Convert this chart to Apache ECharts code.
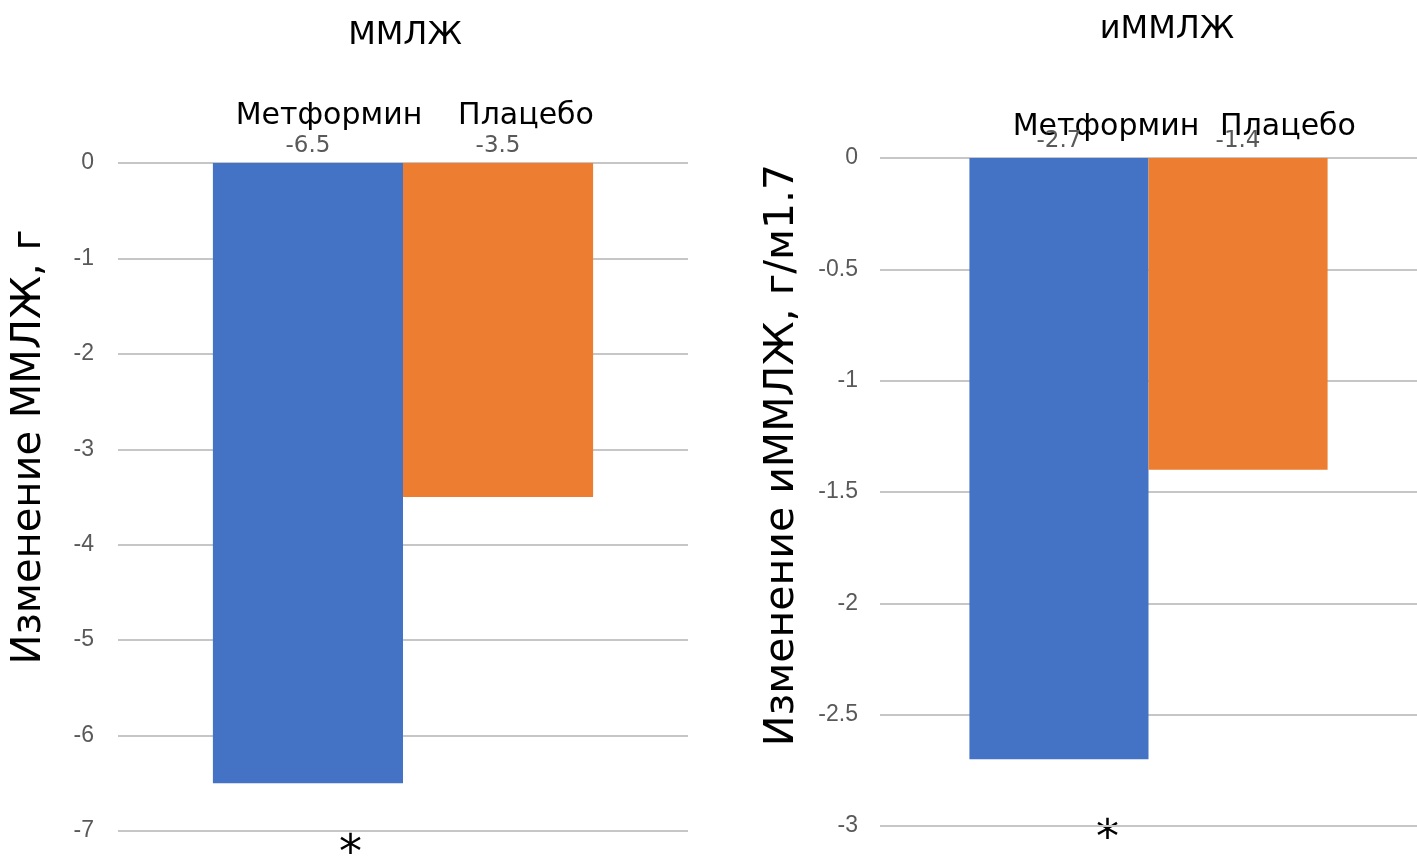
<!DOCTYPE html>
<html>
<head>
<meta charset="utf-8">
<script src="https://cdn.jsdelivr.net/npm/echarts@6/dist/echarts.min.js"></script>
<style>
  html, body { margin: 0; padding: 0; background: #fff; }
  #chart { width: 1417px; height: 864px; }
</style>
</head>
<body>
<div id="chart"></div>
<script>
// Change in LV mass (left) and indexed LV mass (right), metformin vs placebo
const groups = ['Метформин', 'Плацебо'];
const massChange = [-6.5, -3.5];      // г
const indexChange = [-2.7, -1.4];     // г/м1.7
const titles = ['ММЛЖ', 'иММЛЖ'];
const axisNames = ['Изменение ММЛЖ, г', 'Изменение иММЛЖ, г/м1.7'];
const colors = ['#4472C4', '#ED7D31'];

const chart = echarts.init(document.getElementById('chart'));

const catFont = 'DejaVu Sans';
const tickFont = 'Liberation Sans';

// label: group name on top, value just above the zero line
function makeLabel(nameLineHeight, shifts) {
  return shifts.map(function (s) {
    return {
      show: true,
      position: 'top',
      distance: 5,
      formatter: function (p) {
        return '{n|' + p.seriesName + '}\n{v|' + p.value + '}';
      },
      rich: {
        n: { fontFamily: catFont, fontSize: 30, color: '#000', lineHeight: nameLineHeight, padding: [0, 0, 0, s] },
        v: { fontFamily: catFont, fontSize: 23, color: '#595959', lineHeight: 24 }
      }
    };
  });
}

const leftLabels = makeLabel(35, [42, 56]);
const rightLabels = makeLabel(3, [94, 100]);

const series = [];
groups.forEach(function (g, i) {
  series.push({
    name: g, type: 'bar', xAxisIndex: 0, yAxisIndex: 0,
    data: [massChange[i]], barGap: '0%', barCategoryGap: '33.3%',
    itemStyle: { color: colors[i] },
    label: leftLabels[i]
  });
  series.push({
    name: g, type: 'bar', xAxisIndex: 1, yAxisIndex: 1,
    data: [indexChange[i]], barGap: '0%', barCategoryGap: '33.3%',
    itemStyle: { color: colors[i] },
    label: rightLabels[i]
  });
});

const yCommon = {
  type: 'value',
  axisLine: { show: false },
  axisTick: { show: false },
  splitLine: { lineStyle: { color: '#c6c6c6', width: 2 } },
  nameLocation: 'middle'
};

chart.setOption({
  animation: false,
  backgroundColor: '#fff',
  title: [
    { text: titles[0], left: 400, top: 15, textAlign: 'center',
      textStyle: { fontFamily: catFont, fontSize: 32, fontWeight: 'normal', color: '#000' } },
    { text: titles[1], left: 1162, top: 9, textAlign: 'center',
      textStyle: { fontFamily: catFont, fontSize: 32, fontWeight: 'normal', color: '#000' } }
  ],
  grid: [
    { left: 118, width: 570, top: 163, height: 668 },
    { left: 880, width: 546, top: 158, height: 668 }
  ],
  xAxis: [
    { type: 'category', gridIndex: 0, data: [''], show: false },
    { type: 'category', gridIndex: 1, data: [''], show: false }
  ],
  yAxis: [
    Object.assign({}, yCommon, {
      gridIndex: 0, min: -7, max: 0, interval: 1,
      axisLabel: { fontFamily: tickFont, fontSize: 23, color: '#595959', margin: 24 },
      name: axisNames[0], nameGap: 68,
      nameTextStyle: { fontFamily: catFont, fontSize: 40, color: '#000', padding: [0, 0, 0, 100] }
    }),
    Object.assign({}, yCommon, {
      gridIndex: 1, min: -3, max: 0, interval: 0.5,
      axisLabel: { fontFamily: tickFont, fontSize: 23, color: '#595959', margin: 22 },
      name: axisNames[1], nameGap: 77,
      nameTextStyle: { fontFamily: catFont, fontSize: 41, color: '#000', padding: [0, 0, 0, 74] }
    })
  ],
  graphic: [
    { type: 'text', left: 339, top: 832, style: { text: '*', font: '46px "DejaVu Sans"', fill: '#000' } },
    { type: 'text', left: 1096, top: 817, style: { text: '*', font: '46px "DejaVu Sans"', fill: '#000' } }
  ],
  series: series
});
</script>
</body>
</html>
